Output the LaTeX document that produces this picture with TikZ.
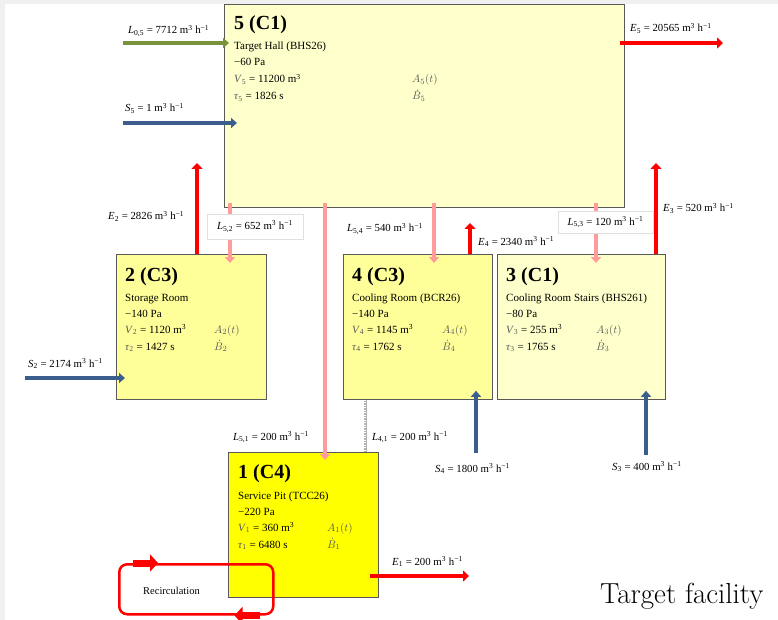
\documentclass[tikz,border=0pt]{standalone}
\usepackage{fontspec}
\usetikzlibrary{arrows.meta}
\newfontfamily\wordfont{Liberation Serif}
\definecolor{hallfill}{HTML}{FFFFCC}
\definecolor{roomfill}{HTML}{FFFF99}
\definecolor{pitfill}{HTML}{FFFF00}
\definecolor{exhaustred}{HTML}{FF0000}
\definecolor{leakpink}{HTML}{FF9B9B}
\definecolor{supplyblue}{HTML}{3B5E8C}
\definecolor{freshgreen}{HTML}{77933C}
\definecolor{framegray}{HTML}{F0F0F0}
\definecolor{symgray}{HTML}{595959}
\newcommand{\perh}{m\textsuperscript{3} h\textsuperscript{−1}}
\begin{document}
\begin{tikzpicture}[x=1pt, y=-1pt,
    room/.style={draw=black!65, line width=0.8pt, anchor=north west, inner sep=0pt},
    roomtitle/.style={anchor=base west, inner sep=0pt, font=\wordfont\fontsize{20}{22}\selectfont\bfseries},
    info/.style={anchor=base west, inner sep=0pt, text height=8pt, text depth=2pt, font=\wordfont\fontsize{11}{13}\selectfont},
    flowlabel/.style={anchor=base west, inner sep=0pt, font=\wordfont\fontsize{10.8}{12}\selectfont},
    labelbox/.style={draw=black!12, fill=white, inner sep=0pt, font=\wordfont\fontsize{10.8}{12}\selectfont},
    exhaust/.style={draw=exhaustred, line width=4.5pt, -{Triangle[width=11pt,length=6pt]}},
    leak/.style={draw=leakpink, line width=4pt, -{Triangle[width=10pt,length=6pt]}},
    supply/.style={draw=supplyblue, line width=4pt, -{Triangle[width=10pt,length=6pt]}},
    fresh/.style={draw=freshgreen, line width=4pt, -{Triangle[width=10pt,length=6pt]}}]

    % page frame
    \useasboundingbox (0,0) rectangle (778,620);
    \fill[framegray] (0,0) rectangle (778,620);
    \fill[white] (5,4) rectangle (778,620);

    % rooms
    \node[room, fill=hallfill, minimum width=400pt, minimum height=203pt] (room5) at (224,4) {};
    \node[room, fill=roomfill, minimum width=150pt, minimum height=145pt] (room2) at (116,254) {};
    \node[room, fill=roomfill, minimum width=149pt, minimum height=145pt] (room4) at (343,254) {};
    \node[room, fill=hallfill, minimum width=168pt, minimum height=145pt] (room3) at (497,254) {};
    \node[room, fill=pitfill, minimum width=150pt, minimum height=145pt] (room1) at (228,452) {};

    % room 5
    \node[roomtitle] (r5title) at (234,30) {5 (C1)};
    \node[info] (r5name) at (234,50) {Target Hall (BHS26)};
    \node[info] (r5p) at (234,66) {−60 Pa};
    \node[info] (r5V) at (234,83) {{\color{symgray}\textit{V}\textsubscript{5}} = 11200 m\textsuperscript{3}};
    \node[info] (r5tau) at (234,100) {{\color{symgray}\textit{τ}\textsubscript{5}} = 1826 s};
    \node[info] (r5A) at (412,83) {\color{symgray}$A_5(t)$};
    \node[info] (r5B) at (412,100) {\color{symgray}$\dot{B}_5$};

    % room 2
    \node[roomtitle] (r2title) at (125,281) {2 (C3)};
    \node[info] (r2name) at (125,301) {Storage Room};
    \node[info] (r2p) at (125,317) {−140 Pa};
    \node[info] (r2V) at (125,333) {{\color{symgray}\textit{V}\textsubscript{2}} = 1120 m\textsuperscript{3}};
    \node[info] (r2tau) at (125,350) {{\color{symgray}\textit{τ}\textsubscript{2}} = 1427 s};
    \node[info] (r2A) at (214,333) {\color{symgray}$A_2(t)$};
    \node[info] (r2B) at (214,350) {\color{symgray}$\dot{B}_2$};

    % room 4
    \node[roomtitle] (r4title) at (352,281) {4 (C3)};
    \node[info] (r4name) at (352,301) {Cooling Room (BCR26)};
    \node[info] (r4p) at (352,317) {−140 Pa};
    \node[info] (r4V) at (352,333) {{\color{symgray}\textit{V}\textsubscript{4}} = 1145 m\textsuperscript{3}};
    \node[info] (r4tau) at (352,350) {{\color{symgray}\textit{τ}\textsubscript{4}} = 1762 s};
    \node[info] (r4A) at (442,333) {\color{symgray}$A_4(t)$};
    \node[info] (r4B) at (442,350) {\color{symgray}$\dot{B}_4$};

    % room 3
    \node[roomtitle] (r3title) at (506,281) {3 (C1)};
    \node[info] (r3name) at (506,301) {Cooling Room Stairs (BHS261)};
    \node[info] (r3p) at (506,317) {−80 Pa};
    \node[info] (r3V) at (506,333) {{\color{symgray}\textit{V}\textsubscript{3}} = 255 m\textsuperscript{3}};
    \node[info] (r3tau) at (506,350) {{\color{symgray}\textit{τ}\textsubscript{3}} = 1765 s};
    \node[info] (r3A) at (596,333) {\color{symgray}$A_3(t)$};
    \node[info] (r3B) at (596,350) {\color{symgray}$\dot{B}_3$};

    % room 1
    \node[roomtitle] (r1title) at (238,478) {1 (C4)};
    \node[info] (r1name) at (238,499) {Service Pit (TCC26)};
    \node[info] (r1p) at (238,515) {−220 Pa};
    \node[info] (r1V) at (238,531) {{\color{symgray}\textit{V}\textsubscript{1}} = 360 m\textsuperscript{3}};
    \node[info] (r1tau) at (238,548) {{\color{symgray}\textit{τ}\textsubscript{1}} = 6480 s};
    \node[info] (r1A) at (327,531) {\color{symgray}$A_1(t)$};
    \node[info] (r1B) at (327,548) {\color{symgray}$\dot{B}_1$};

    % free ends
    \coordinate (l05) at (123,43);
    \coordinate (s5) at (123,123);
    \coordinate (e5) at (723,43);
    \coordinate (e2) at (197,163);
    \coordinate (e3) at (656,163);
    \coordinate (e4) at (470,223);
    \coordinate (s2) at (25,378);
    \coordinate (s4) at (476,453);
    \coordinate (s3) at (646,455);
    \coordinate (e1) at (469,576);
    \coordinate (x52) at (230,0);
    \coordinate (x54) at (434,0);
    \coordinate (x53) at (596,0);
    \coordinate (x51) at (325,0);
    \coordinate (x41) at (365,0);

    % leaks between rooms
    \draw[leak] ([yshift=5pt]room5.south -| x52) -- ([yshift=-9pt]room2.north -| x52);
    \draw[leak] ([yshift=5pt]room5.south -| x54) -- ([yshift=-9pt]room4.north -| x54);
    \draw[leak] ([yshift=5pt]room5.south -| x53) -- ([yshift=-9pt]room3.north -| x53);
    \draw[leak] ([yshift=5pt]room5.south -| x51) -- ([yshift=-8pt]room1.north -| x51);
    \draw[black!30, line width=3pt] (room4.south -| x41) -- (room1.north -| x41);
    \draw[white, line width=1.2pt, dash pattern=on 1pt off 1.5pt] (room4.south -| x41) -- (room1.north -| x41);

    % supply and fresh air
    \draw[fresh] (l05) -- ([xshift=5pt]room5.west |- l05);
    \draw[supply] (s5) -- ([xshift=13pt]room5.west |- s5);
    \draw[supply] (s2) -- ([xshift=9pt]room2.west |- s2);
    \draw[supply] (s4) -- ([yshift=9pt]room4.south -| s4);
    \draw[supply] (s3) -- ([yshift=9pt]room3.south -| s3);

    % exhaust
    \draw[exhaust] ([xshift=-5pt]room5.east |- e5) -- (e5);
    \draw[exhaust] (room2.north -| e2) -- (e2);
    \draw[exhaust] (room3.north -| e3) -- (e3);
    \draw[exhaust] (room4.north -| e4) -- (e4);
    \draw[exhaust] ([xshift=-9pt]room1.east |- e1) -- (e1);

    % recirculation loop
    \node[draw=exhaustred, line width=2.5pt, rounded corners=8pt, anchor=north west,
        minimum width=154pt, minimum height=50pt, inner sep=0pt] (recirc) at (118,563) {};
    \draw[exhaustred, line width=7pt, -{Triangle[width=17pt,length=8pt]}]
        ([xshift=15pt]recirc.north west) -- ([xshift=40pt]recirc.north west);
    \draw[exhaustred, line width=7pt, -{Triangle[width=17pt,length=8pt]}]
        ([xshift=-15pt]recirc.south east) -- ([xshift=-40pt]recirc.south east);
    \node[flowlabel, font=\wordfont\fontsize{10.5}{12}\selectfont] (recirctext) at (143,594) {Recirculation};

    % flow labels
    \node[flowlabel] (lab05) at (128,34) {\textit{L}\textsubscript{0,5} = 7712 \perh};
    \node[flowlabel] (labs5) at (125,112) {\textit{S}\textsubscript{5} = 1 \perh};
    \node[flowlabel] (labe5) at (630,32) {\textit{E}\textsubscript{5} = 20565 \perh};
    \node[flowlabel] (labe2) at (108,220) {\textit{E}\textsubscript{2} = 2826 \perh};
    \node[labelbox, minimum width=96pt, minimum height=25pt] (lab52) at (255,226.5)
        {\textit{L}\textsubscript{5,2} = 652 \perh};
    \node[flowlabel] (lab54) at (347,232) {\textit{L}\textsubscript{5,4} = 540 \perh};
    \node[flowlabel] (labe4) at (478,245) {\textit{E}\textsubscript{4} = 2340 \perh};
    \node[labelbox, minimum width=95pt, minimum height=22pt] (lab53) at (605.5,222)
        {\textit{L}\textsubscript{5,3} = 120 \perh};
    \node[flowlabel] (labe3) at (663,212) {\textit{E}\textsubscript{3} = 520 \perh};
    \node[flowlabel] (labs2) at (28,367) {\textit{S}\textsubscript{2} = 2174 \perh};
    \node[flowlabel] (lab51) at (233,440) {\textit{L}\textsubscript{5,1} = 200 \perh};
    \node[flowlabel] (lab41) at (372,440) {\textit{L}\textsubscript{4,1} = 200 \perh};
    \node[flowlabel] (labs4) at (435,472) {\textit{S}\textsubscript{4} = 1800 \perh};
    \node[flowlabel] (labs3) at (612,470) {\textit{S}\textsubscript{3} = 400 \perh};
    \node[flowlabel] (labe1) at (392,565) {\textit{E}\textsubscript{1} = 200 \perh};

    % caption
    \node[anchor=base west, inner sep=0pt, font=\fontsize{29}{33}\selectfont] (caption) at (600,603) {Target facility};
\end{tikzpicture}
\end{document}
